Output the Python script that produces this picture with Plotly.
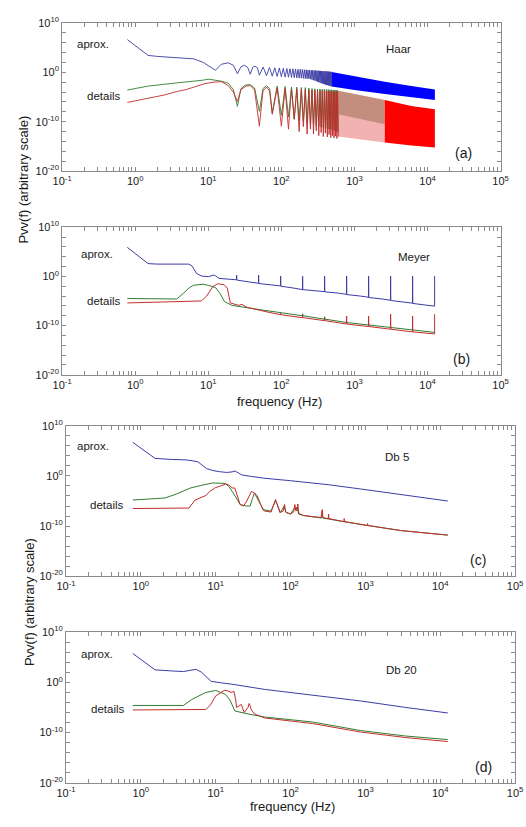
import plotly.graph_objects as go

W, H = 526, 827

# ---------------- data: (frequency Hz, log10 Pvv) ----------------
# Panel (a) Haar
A_APROX = [(0.78, 6.6), (1.5, 3.4), (2.0, 3.2), (3.0, 3.0), (4.5, 2.9), (6.3, 2.7), (8.5, 2.0),
           (10.5, 1.2), (12.5, 0.4), (15.0, 1.6), (18.75, 1.9), (22.0, 1.4), (25.0, -0.3), (28.0, 1.1),
           (31.25, 1.4), (34.5, 1.0), (37.5, -0.4), (40.5, 1.0), (43.75, 1.2), (47.0, 0.9), (50.0, -0.6),
           (56.25, 1.05), (62.5, -0.7), (68.75, 0.95), (75.0, -0.8), (81.25, 0.9), (87.5, -0.85),
           (93.75, 0.85), (100.0, -0.9), (106.25, 0.8), (112.5, -1.0), (118.75, 0.75), (125.0, -1.0),
           (131.25, 0.7), (137.5, -1.05), (143.75, 0.7), (150.0, -1.1), (156.25, 0.65), (162.5, -1.15),
           (168.75, 0.6), (175.0, -1.2), (181.25, 0.6), (187.5, -1.2), (193.75, 0.55), (200.0, -1.25),
           (206.25, 0.5), (212.5, -1.3), (218.75, 0.5), (225.0, -1.3), (231.25, 0.45), (237.5, -1.35),
           (243.75, 0.4), (250.0, -1.4), (256.25, 0.4), (262.5, -1.5), (268.75, 0.38), (275.0, -1.6),
           (281.25, 0.36), (287.5, -1.7), (293.75, 0.34), (300.0, -1.8), (306.25, 0.32), (312.5, -1.9),
           (318.75, 0.3), (325.0, -2.0), (331.25, 0.28), (337.5, -2.1), (343.75, 0.26), (350.0, -2.2),
           (356.25, 0.24), (362.5, -2.3), (368.75, 0.22), (375.0, -2.35), (381.25, 0.2), (387.5, -2.4),
           (393.75, 0.18), (400.0, -2.5), (406.25, 0.17), (412.5, -2.55), (418.75, 0.16), (425.0, -2.6),
           (431.25, 0.14), (437.5, -2.65), (443.75, 0.12), (450.0, -2.7), (456.25, 0.1), (462.5, -2.75),
           (468.75, 0.09), (475.0, -2.8), (481.25, 0.07), (487.5, -2.9)]
A_APROX_BAND_TOP = [(487.5, 0.07), (1000, -0.8), (2600, -1.9), (6000, -2.8), (12600, -3.5)]
A_APROX_BAND_BOT = [(487.5, -2.9), (1000, -3.6), (2600, -4.4), (6000, -5.1), (12600, -5.6)]

A_GREEN = [(0.78, -3.6), (1.5, -2.8), (3.0, -2.3), (5.0, -2.0), (8.5, -1.6), (10.0, -1.4), (12.5, -1.6),
           (15.0, -1.8), (18.75, -2.2), (22.0, -3.5), (25.0, -6.9), (28.0, -3.3), (32.0, -2.6),
           (37.5, -2.5), (43.0, -3.2), (50.0, -7.9), (56.0, -3.3), (62.5, -2.7), (69.0, -3.3),
           (75.0, -8.2), (87.5, -2.8), (100.0, -8.7), (112.5, -2.9), (125.0, -9.0), (137.5, -3.0),
           (150.0, -9.5), (162.5, -3.0), (175.0, -9.8), (187.5, -3.1), (200.0, -10.0), (212.5, -3.1),
           (225.0, -10.3), (237.5, -3.2), (250.0, -10.5), (262.5, -3.3), (275.0, -10.7),
           (287.5, -3.35), (300.0, -10.9), (312.5, -3.4), (325.0, -11.0), (337.5, -3.4),
           (350.0, -11.1), (362.5, -3.45), (375.0, -11.2), (387.5, -3.45), (400.0, -11.3),
           (412.5, -3.5), (425.0, -11.4), (437.5, -3.5), (450.0, -11.5), (462.5, -3.55),
           (475.0, -11.6), (487.5, -3.55), (500.0, -11.7), (512.5, -3.6), (525.0, -11.8),
           (537.5, -3.6), (550.0, -11.9), (562.5, -3.65), (575.0, -12.0), (587.5, -3.65),
           (600.0, -12.0)]
A_RED = [(0.78, -6.1), (1.5, -5.2), (2.5, -4.6), (3.7, -3.9), (5.0, -3.5), (7.0, -2.8), (9.0, -2.3),
         (12.0, -2.0), (15.0, -1.9), (18.75, -2.7), (22.0, -4.0), (25.0, -5.9), (28.0, -3.5),
         (33.0, -2.8), (37.5, -2.7), (43.0, -3.6), (50.0, -10.9), (56.0, -3.8), (62.5, -3.0),
         (69.0, -3.8), (75.0, -8.5), (87.5, -3.2), (100.0, -10.9), (112.5, -3.3), (125.0, -11.5),
         (137.5, -3.4), (150.0, -9.5), (162.5, -3.4), (175.0, -12.0), (187.5, -3.5), (200.0, -11.0),
         (212.5, -3.5), (225.0, -12.5), (237.5, -3.6), (250.0, -11.5), (262.5, -3.6), (275.0, -12.5),
         (287.5, -3.65), (300.0, -11.8), (312.5, -3.7), (325.0, -12.8), (337.5, -3.7),
         (350.0, -12.2), (362.5, -3.75), (375.0, -13.0), (387.5, -3.75), (400.0, -12.3),
         (412.5, -3.8), (425.0, -13.1), (437.5, -3.8), (450.0, -12.6), (462.5, -3.85),
         (475.0, -13.2), (487.5, -3.85), (500.0, -12.8), (512.5, -3.9), (525.0, -13.3),
         (537.5, -3.9), (550.0, -12.9), (562.5, -3.9), (575.0, -13.4), (587.5, -3.95),
         (600.0, -13.0)]
A_DET_TRANS_TOP = [(600, -3.75), (1200, -4.6), (2600, -5.6)]
A_DET_TRANS_BOT = [(600, -13.0), (1200, -13.6), (2600, -14.2)]
A_DET_OLIVE_BOT = [(600, -8.5), (1200, -9.5), (2600, -10.5)]
A_RED_BAND_TOP = [(2600, -5.6), (6000, -6.8), (12600, -7.5)]
A_RED_BAND_BOT = [(2600, -14.2), (6000, -14.8), (12600, -15.2)]

# Panel (b) Meyer
B_APROX = [(0.78, 5.9), (1.5, 2.6), (2.0, 2.5), (3.0, 2.45), (4.5, 2.5), (5.4, 2.5), (6.0, 2.1),
           (6.9, 0.6), (8.1, 0.07), (10.0, -0.05), (12.1, 0.27), (14.0, -0.4), (20.0, -0.6),
           (24.2, -0.7), (24.4, 0.27), (24.6, -0.75), (35.0, -1.1), (48.5, -1.4), (48.8, 0.27),
           (49.1, -1.45), (70.0, -1.7), (97.1, -1.95), (97.7, 0.07), (98.3, -2.0), (150.0, -2.4),
           (194.2, -2.7), (195.3, 0.0), (196.4, -2.7), (300.0, -2.95), (388.5, -3.1), (390.6, 0.07),
           (392.7, -3.15), (600.0, -3.4), (777.0, -3.65), (781.3, 0.07), (785.6, -3.7), (1200.0, -4.0),
           (1554.0, -4.25), (1562.5, 0.07), (1571.0, -4.3), (2400.0, -4.6), (3108.0, -4.85),
           (3125.0, 0.07), (3142.0, -4.9), (4800.0, -5.25), (6216.0, -5.45), (6250.0, 0.07),
           (6284.0, -5.5), (9500.0, -5.85), (12500.0, -6.05), (12510.0, 0.07)]
B_GREEN = [(0.78, -4.5), (2.0, -4.5), (3.7, -4.6), (4.6, -3.4), (5.5, -2.3), (6.3, -1.8), (8.5, -1.6),
           (10.5, -1.9), (12.6, -2.3), (14.5, -3.5), (16.6, -5.1), (21.0, -5.9), (30.0, -6.3),
           (58.0, -6.9), (100.0, -7.4), (193.0, -8.0), (195.3, -7.6), (197.5, -8.0), (386.0, -8.7),
           (390.6, -8.2), (395.0, -8.7), (800.0, -9.4), (1600.0, -9.9), (3125.0, -10.5),
           (6250.0, -11.0), (12500.0, -11.4)]
B_RED = [(0.78, -5.4), (4.6, -5.2), (8.0, -5.0), (9.5, -4.0), (11.5, -2.1), (13.4, -1.5), (16.5, -1.7),
         (18.2, -2.4), (19.3, -4.0), (20.0, -5.4), (26.0, -5.9), (29.0, -5.7), (31.0, -6.0),
         (34.0, -6.3), (58.0, -7.1), (97.0, -7.8), (97.7, -7.4), (98.5, -7.8), (193.0, -8.4),
         (195.3, -7.9), (197.5, -8.4), (386.0, -9.0), (390.6, -8.5), (395.0, -9.0), (776.0, -9.7),
         (781.3, -8.07), (786.0, -9.7), (1553.0, -10.2), (1562.5, -8.07), (1572.0, -10.2),
         (3105.0, -10.75), (3125.0, -7.7), (3145.0, -10.75), (6210.0, -11.3), (6250.0, -8.07),
         (6290.0, -11.3), (12500.0, -11.7), (12510.0, -7.7)]

# Panel (c) Db 5
C_APROX = [(0.78, 6.7), (1.55, 3.5), (2.5, 3.3), (4.0, 3.2), (5.0, 3.0), (5.8, 2.8), (7.5, 1.5),
           (9.0, 1.1), (11.2, 0.85), (14.0, 0.7), (16.5, 0.8), (18.2, 1.0), (20.0, 0.6), (22.3, 0.2),
           (30.0, -0.1), (44.0, -0.45), (100.0, -0.95), (324.0, -1.76), (860.0, -2.6),
           (3000.0, -3.7), (12600.0, -5.0)]
C_GREEN = [(0.78, -4.8), (2.1, -4.4), (3.0, -3.6), (4.6, -2.4), (6.8, -1.8), (9.1, -1.4), (13.4, -1.5),
           (15.0, -2.1), (18.2, -4.0), (21.2, -5.7), (25.6, -6.0), (28.8, -6.0), (31.0, -4.5),
           (33.0, -3.4), (36.0, -4.0), (38.4, -5.0), (42.5, -6.7), (54.5, -7.0), (60.0, -5.8),
           (63.0, -5.0), (67.0, -5.8), (73.0, -7.3), (78.0, -6.6), (82.0, -6.0), (87.0, -7.3),
           (100.0, -7.6), (112.0, -6.4), (118.0, -6.8), (122.0, -6.2), (128.0, -7.6), (150.0, -7.9),
           (200.0, -8.1), (262.0, -8.4), (265.0, -7.6), (270.0, -8.4), (500.0, -9.1), (1070.0, -9.9),
           (3000.0, -10.9), (12600.0, -11.8)]
C_RED = [(0.78, -6.5), (4.4, -6.4), (5.3, -4.8), (7.4, -3.9), (8.3, -3.1), (10.0, -2.3), (11.2, -2.1),
         (13.6, -1.6), (15.0, -1.8), (16.6, -2.4), (18.0, -2.4), (21.2, -5.7), (23.5, -6.0),
         (26.0, -5.0), (30.0, -3.1), (33.0, -3.4), (38.4, -5.3), (44.5, -7.0), (55.0, -7.2),
         (60.0, -5.5), (63.0, -4.7), (66.0, -5.6), (72.0, -7.3), (80.0, -7.0), (83.0, -5.7),
         (86.0, -7.2), (100.0, -7.6), (110.0, -7.2), (114.0, -5.7), (118.0, -7.0), (122.0, -6.8),
         (125.0, -5.6), (129.0, -7.5), (150.0, -7.9), (200.0, -8.1), (255.0, -8.3), (262.0, -7.0),
         (266.0, -6.7), (270.0, -8.3), (320.0, -8.5), (322.0, -7.6), (325.0, -8.5), (515.0, -9.1),
         (520.0, -8.5), (525.0, -9.1), (1060.0, -9.9), (1070.0, -9.5), (1080.0, -9.9),
         (3000.0, -10.9), (12600.0, -11.8)]

# Panel (d) Db 20
D_APROX = [(0.78, 5.75), (1.55, 2.5), (2.5, 2.3), (3.7, 2.16), (4.5, 2.4), (5.5, 2.6), (6.5, 2.0),
           (8.0, 0.6), (8.7, 0.2), (12.0, -0.1), (18.0, -0.45), (45.0, -1.4), (195.0, -2.6),
           (860.0, -3.7), (3450.0, -5.0), (12600.0, -6.1)]
D_GREEN = [(0.78, -4.6), (3.7, -4.6), (4.8, -3.4), (7.4, -2.0), (10.0, -1.6), (13.5, -2.4),
           (15.5, -3.5), (18.0, -5.7), (27.0, -6.3), (45.0, -6.9), (195.0, -7.9), (860.0, -9.6),
           (3450.0, -10.7), (12600.0, -11.4)]
D_RED = [(0.78, -5.5), (7.4, -5.4), (8.5, -4.5), (10.0, -2.7), (13.0, -1.6), (14.5, -1.7),
         (16.0, -2.0), (17.5, -1.8), (18.5, -3.5), (19.0, -5.0), (22.0, -4.4), (24.0, -6.0),
         (27.0, -5.0), (28.0, -4.2), (30.0, -5.5), (33.0, -6.3), (45.0, -7.1), (195.0, -8.2),
         (860.0, -9.9), (3450.0, -11.0), (12600.0, -11.8)]

X_DECADES = [-1, 0, 1, 2, 3, 4, 5]
Y_DECADES = [-20, -10, 0, 10]

PANEL_TEXT = [
    dict(aprox="aprox.", details="details", name="Haar", tag="(a)"),
    dict(aprox="aprox.", details="details", name="Meyer", tag="(b)"),
    dict(aprox="aprox.", details="details", name="Db 5", tag="(c)"),
    dict(aprox="aprox.", details="details", name="Db 20", tag="(d)"),
]
YTITLE = "Pvv(f) (arbitrary scale)"
XTITLE = "frequency (Hz)"

# ---------------- styling / layout ----------------
BLUE = "rgb(60,60,165)"
GREEN = "rgb(50,125,50)"
RED = "rgb(195,45,45)"
AXC = "#8a8a8a"
TXT = "#1a1a1a"
FONT = "Liberation Sans, Arial, sans-serif"

# panel boxes in pixels: left, right, top, bottom
BOXES = [(54, 508, 15, 166), (54, 508, 223, 373), (58, 523, 425, 578), (58, 523, 635, 788)]


def px(x):
    return x / W


def py(y):
    return 1 - y / H


fig = go.Figure()


def xs(pts):
    return [p[0] for p in pts]


def ys(pts):
    return [10 ** p[1] for p in pts]


def axes(k):
    return ("x" if k == 1 else f"x{k}"), ("y" if k == 1 else f"y{k}")


def line(pts, color, k, width=1.0):
    xa, ya = axes(k)
    fig.add_trace(go.Scatter(x=xs(pts), y=ys(pts), mode="lines",
                             line=dict(color=color, width=width), xaxis=xa, yaxis=ya,
                             showlegend=False, hoverinfo="skip"))


def band(top, bot, color, k):
    xa, ya = axes(k)
    poly = top + bot[::-1]
    fig.add_trace(go.Scatter(x=xs(poly), y=ys(poly), mode="lines", fill="toself",
                             fillcolor=color, line=dict(width=0, color=color),
                             xaxis=xa, yaxis=ya, showlegend=False, hoverinfo="skip"))


# panel a
band(A_APROX_BAND_TOP, A_APROX_BAND_BOT, "rgb(0,0,255)", 1)
line(A_APROX, BLUE, 1, 0.9)
band(A_DET_TRANS_TOP, A_DET_TRANS_BOT, "rgba(228,85,85,0.45)", 1)
band(A_DET_TRANS_TOP, A_DET_OLIVE_BOT, "rgba(110,75,30,0.35)", 1)
band(A_RED_BAND_TOP, A_RED_BAND_BOT, "rgb(255,0,0)", 1)
line(A_GREEN, GREEN, 1, 0.9)
line(A_RED, RED, 1, 0.9)
# panel b
line(B_APROX, BLUE, 2)
line(B_GREEN, GREEN, 2)
line(B_RED, RED, 2)
# panel c
line(C_APROX, BLUE, 3)
line(C_GREEN, GREEN, 3)
line(C_RED, RED, 3)
# panel d
line(D_APROX, BLUE, 4)
line(D_GREEN, GREEN, 4)
line(D_RED, RED, 4)

# tick positions (axis furniture): labelled decades + unlabelled minor ticks
x_major = [10.0 ** d for d in X_DECADES]
x_major_text = [f"10<sup>{d}</sup>" for d in X_DECADES]
x_minor = [m * 10.0 ** d for d in X_DECADES[:-1] for m in range(2, 10)]
y_major = [10.0 ** e for e in Y_DECADES]
y_major_text = [f"10<sup>{e}</sup>" for e in Y_DECADES]
y_minor = [10.0 ** e for e in range(Y_DECADES[0], Y_DECADES[-1] + 1, 2) if e not in Y_DECADES]

layout = dict(width=W, height=H, margin=dict(l=0, r=0, t=0, b=0),
              paper_bgcolor="white", plot_bgcolor="white",
              font=dict(family=FONT, color=TXT, size=11), showlegend=False)

for i, (l, r, t, b) in enumerate(BOXES):
    k = i + 1
    sx = "" if k == 1 else str(k)
    common = dict(type="log", showgrid=False, zeroline=False, showline=True, linecolor=AXC,
                  linewidth=1, mirror="allticks", ticks="inside", ticklen=4, tickcolor=AXC,
                  tickfont=dict(size=11, color=TXT, family=FONT))
    minor_common = dict(ticks="inside", ticklen=4, tickcolor=AXC, showgrid=False)
    layout["xaxis" + sx] = dict(common, domain=[px(l), px(r)], range=[-1, 5],
                                anchor="y" + sx, tickmode="array", tickvals=x_major,
                                ticktext=x_major_text,
                                minor=dict(minor_common, tickmode="array", tickvals=x_minor))
    layout["yaxis" + sx] = dict(common, domain=[py(b), py(t)], range=[-20, 10],
                                anchor="x" + sx, tickmode="array", tickvals=y_major,
                                ticktext=y_major_text,
                                minor=dict(minor_common, tickmode="array", tickvals=y_minor))

fig.update_layout(**layout)

# annotations (pixel positions)
ANN_POS = [
    dict(aprox=(86, 37), details=(97, 90), name=(402, 42), tag=(470, 147)),
    dict(aprox=(90, 250), details=(97, 298), name=(418, 253), tag=(468, 357)),
    dict(aprox=(86, 446), details=(100, 506), name=(401, 457), tag=(485, 561)),
    dict(aprox=(90, 657), details=(101, 713), name=(405, 673), tag=(490, 772)),
]
for texts, pos in zip(PANEL_TEXT, ANN_POS):
    for key in ("aprox", "details", "name", "tag"):
        xx, yy = pos[key]
        fig.add_annotation(x=px(xx), y=py(yy), xref="paper", yref="paper", text=texts[key],
                           showarrow=False, xanchor="center", yanchor="middle",
                           font=dict(size=14 if key == "tag" else 11.5, color=TXT, family=FONT))

for (xx, yy) in [(14, 175), (20, 604)]:
    fig.add_annotation(x=px(xx), y=py(yy), xref="paper", yref="paper", text=YTITLE,
                       showarrow=False, textangle=-90, xanchor="center", yanchor="middle",
                       font=dict(size=13, color=TXT, family=FONT))
for (xx, yy) in [(279, 400), (292, 812)]:
    fig.add_annotation(x=px(xx), y=py(yy), xref="paper", yref="paper", text=XTITLE,
                       showarrow=False, xanchor="center", yanchor="middle",
                       font=dict(size=13, color=TXT, family=FONT))

fig.write_html("out.html")
